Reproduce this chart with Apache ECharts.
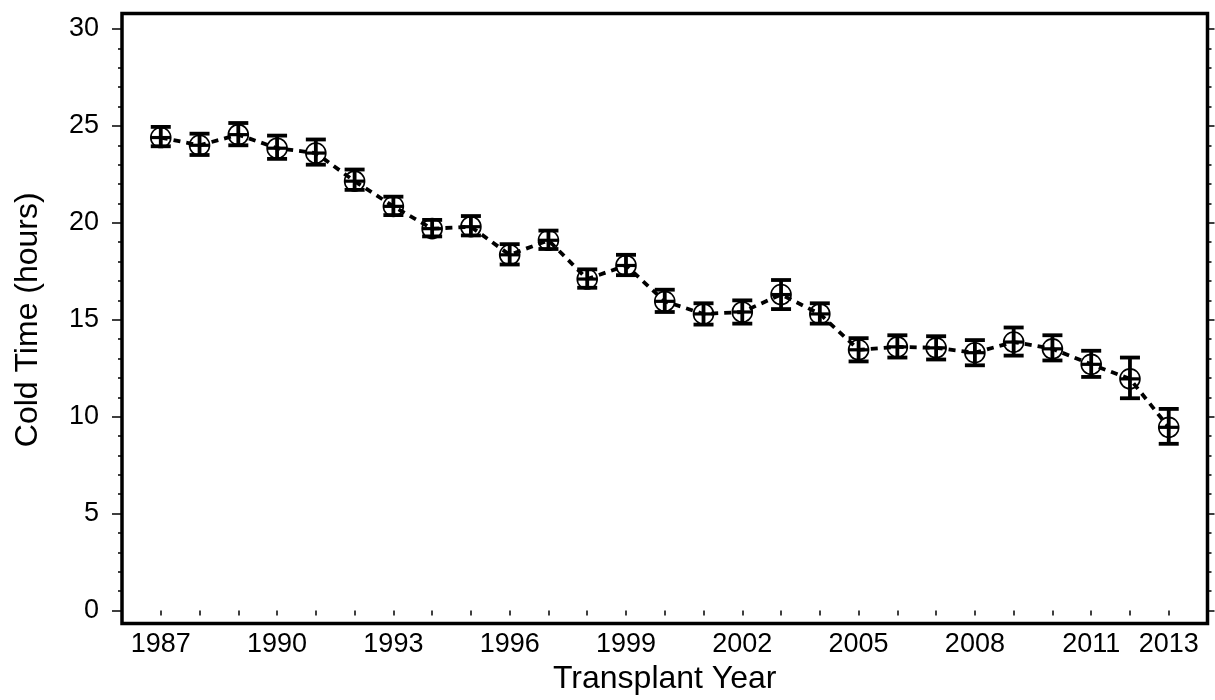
<!DOCTYPE html>
<html>
<head>
<meta charset="utf-8">
<script src="https://cdn.jsdelivr.net/npm/echarts@6/dist/echarts.min.js"></script>
<style>html,body{margin:0;padding:0;background:#fff;}#c{width:1215px;height:700px;}</style>
</head>
<body>
<div id="c"></div>
<script>
const years = [1987,1988,1989,1990,1991,1992,1993,1994,1995,1996,1997,1998,1999,2000,2001,2002,2003,2004,2005,2006,2007,2008,2009,2010,2011,2012,2013];
const meanHours = [24.4,24.0,24.55,23.85,23.6,22.15,20.85,19.7,19.8,18.35,19.1,17.1,17.8,15.95,15.3,15.4,16.3,15.3,13.45,13.6,13.55,13.3,13.85,13.5,12.7,11.95,9.45];
const upperHours = [24.95,24.6,25.15,24.5,24.3,22.75,21.35,20.15,20.35,18.9,19.6,17.6,18.35,16.55,15.85,16.0,17.05,15.85,14.05,14.2,14.15,13.95,14.6,14.2,13.4,13.05,10.4];
const lowerHours = [23.95,23.5,24.0,23.3,23.0,21.7,20.4,19.3,19.35,17.85,18.65,16.65,17.3,15.4,14.75,14.8,15.55,14.8,12.85,13.05,12.95,12.65,13.15,12.9,12.05,10.95,8.6];
const xTickLabels = [1987,1990,1993,1996,1999,2002,2005,2008,2011,2013];
const yTickLabels = [0,5,10,15,20,25,30];

const FONT = "'Liberation Sans', Arial, sans-serif";
const chart = echarts.init(document.getElementById('c'), null, {renderer: 'canvas'});

const meanData = years.map((y, i) => [y, meanHours[i]]);
const errData = years.map((y, i) => [y, lowerHours[i], upperHours[i], meanHours[i]]);

chart.setOption({
  animation: false,
  backgroundColor: '#fff',
  grid: [
    {left: 122, right: 7.5, top: 13.5, bottom: 76.5, show: true, borderColor: '#000', borderWidth: 3.5, backgroundColor: 'transparent'},
    {left: 122, right: 7.5, top: 29, bottom: 89}
  ],
  xAxis: [
    {gridIndex: 0, type: 'value', show: false, min: 0, max: 1},
    {
      gridIndex: 1, type: 'value', min: 1986, max: 2014, interval: 1, position: 'bottom', offset: 12.5,
      axisLine: {show: false},
      axisTick: {show: true, inside: false, length: 5, lineStyle: {color: '#000', width: 1.5}},
      splitLine: {show: false},
      axisLabel: {
        show: true, margin: 8, color: '#000', fontSize: 27, fontFamily: FONT,
        showMinLabel: true, showMaxLabel: true,
        formatter: v => xTickLabels.indexOf(Math.round(v)) >= 0 && Math.abs(v - Math.round(v)) < 1e-6 ? String(Math.round(v)) : ''
      },
      name: 'Transplant Year', nameLocation: 'middle', nameGap: 40,
      nameTextStyle: {color: '#000', fontSize: 32, fontFamily: FONT}
    }
  ],
  yAxis: [
    {gridIndex: 0, type: 'value', show: false, min: 0, max: 1},
    {
      gridIndex: 1, type: 'value', min: 0, max: 30, interval: 5, position: 'left',
      axisLine: {show: false},
      axisTick: {show: true, inside: false, length: 10, lineStyle: {color: '#000', width: 1.5}},
      minorTick: {show: true, splitNumber: 5, length: 4, lineStyle: {color: '#000', width: 1.5}},
      splitLine: {show: false},
      axisLabel: {
        margin: 23, color: '#000', fontSize: 27, fontFamily: FONT,
        formatter: v => yTickLabels.indexOf(Math.round(v)) >= 0 ? String(Math.round(v)) : ''
      },
      name: 'Cold Time (hours)', nameLocation: 'middle', nameGap: 78, nameRotate: 90,
      nameTextStyle: {color: '#000', fontSize: 32, fontFamily: FONT}
    },
    {
      gridIndex: 1, type: 'value', min: 0, max: 30, interval: 5, position: 'right',
      axisLine: {show: false},
      axisTick: {show: true, inside: false, length: 7, lineStyle: {color: '#000', width: 1.5}},
      minorTick: {show: true, splitNumber: 5, length: 4, lineStyle: {color: '#000', width: 1.5}},
      splitLine: {show: false},
      axisLabel: {show: false}
    }
  ],
  series: [
    {
      type: 'line', xAxisIndex: 1, yAxisIndex: 1, data: meanData,
      symbol: 'circle', symbolSize: 20, showSymbol: true,
      itemStyle: {color: 'rgba(0,0,0,0)', borderColor: '#000', borderWidth: 1.6},
      lineStyle: {color: '#000', width: 3.8, type: [7, 6]},
      z: 2
    },
    {
      type: 'custom', xAxisIndex: 1, yAxisIndex: 1, data: errData, z: 3,
      renderItem: function (params, api) {
        const x = api.value(0);
        const lo = api.coord([x, api.value(1)]);
        const hi = api.coord([x, api.value(2)]);
        const mid = api.coord([x, api.value(3)]);
        const hw = 10;
        const st = {stroke: '#000', lineWidth: 3.8};
        return {
          type: 'group',
          children: [
            {type: 'line', shape: {x1: lo[0], y1: lo[1], x2: hi[0], y2: hi[1]}, style: st},
            {type: 'line', shape: {x1: hi[0] - hw, y1: hi[1], x2: hi[0] + hw, y2: hi[1]}, style: st},
            {type: 'line', shape: {x1: lo[0] - hw, y1: lo[1], x2: lo[0] + hw, y2: lo[1]}, style: st},
            {type: 'line', shape: {x1: mid[0] - hw, y1: mid[1], x2: mid[0] + hw, y2: mid[1]}, style: {stroke: '#000', lineWidth: 3.2}}
          ]
        };
      }
    }
  ]
});
</script>
</body>
</html>
